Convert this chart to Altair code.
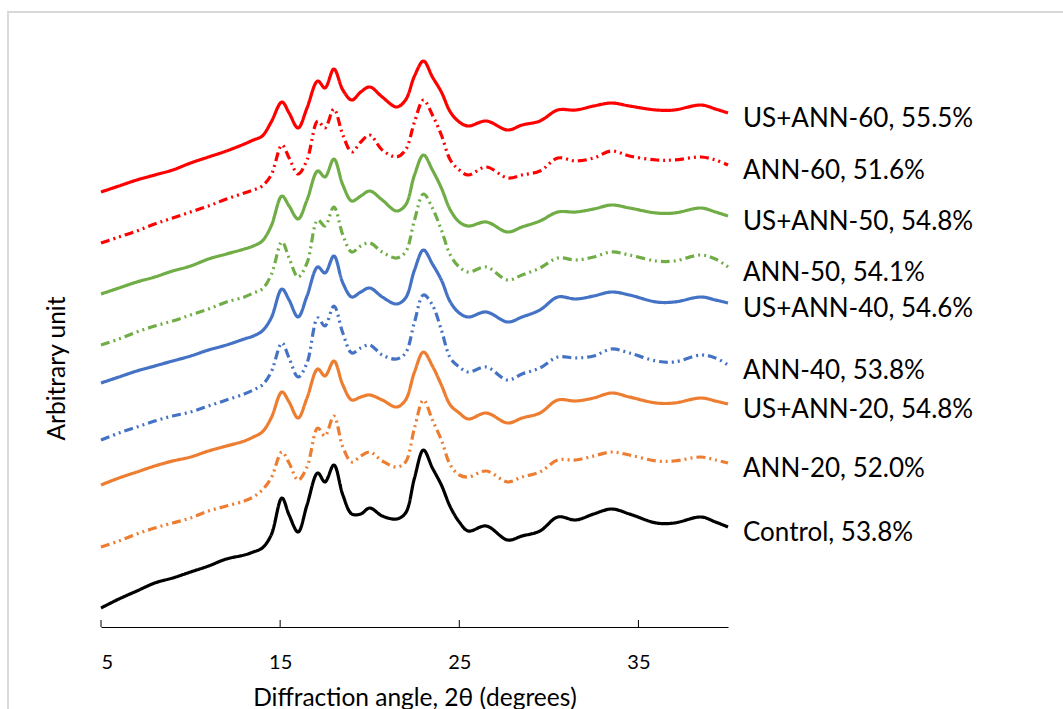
import altair as alt
import pandas as pd

# Diffraction angle grid (2θ, degrees)
angles = [5, 6, 7, 8, 9, 10, 11, 12, 13, 13.5, 14, 14.5, 15.1, 15.5, 16, 16.5, 17.1, 17.5,
          18, 18.5, 19, 19.5, 20, 20.7, 21.5, 22, 22.5, 23, 23.5, 24, 24.5, 25, 25.5, 26.5,
          27.7, 28.5, 29.5, 30.5, 31.5, 32.5, 33.5, 34.5, 36, 37, 38.5, 39.3, 40]

# Stacked intensities (arbitrary units)
control = [19, 28, 36, 44, 49, 55, 61, 68, 72, 75, 79, 92, 129, 112, 95, 122, 154, 145, 162, 132,
           113, 113, 119, 111, 108, 114, 149, 177, 159, 142, 120, 105, 96, 101, 87, 91, 96, 110,
           107, 113, 118, 113, 104, 104, 110, 105, 100]
ann20 = [80, 86, 93, 99, 104, 109, 116, 121, 126, 130, 137, 149, 175, 164, 147, 160, 199, 191, 211,
         180, 165, 171, 175, 166, 160, 165, 199, 227, 207, 187, 162, 152, 150, 156, 145, 150, 155,
         167, 167, 171, 175, 172, 166, 166, 170, 167, 164]
us_ann20 = [142, 149, 155, 161, 166, 170, 176, 181, 186, 190, 195, 209, 235, 225, 209, 229, 258, 251,
            266, 242, 227, 230, 232, 227, 220, 227, 255, 275, 261, 242, 222, 214, 208, 214, 204, 209,
            214, 227, 226, 229, 234, 230, 224, 224, 229, 226, 223]
ann40 = [187, 194, 200, 206, 211, 215, 221, 227, 233, 237, 242, 255, 284, 269, 250, 264, 309, 301, 321,
         294, 274, 279, 282, 272, 268, 274, 305, 332, 322, 297, 269, 260, 255, 260, 247, 253, 259, 270,
         269, 271, 278, 274, 266, 265, 272, 269, 262]
us_ann40 = [244, 250, 256, 261, 266, 271, 277, 282, 288, 291, 296, 309, 338, 327, 310, 331, 360, 354,
            371, 344, 330, 335, 339, 330, 323, 329, 357, 377, 363, 347, 325, 314, 310, 315, 305, 310,
            317, 330, 328, 331, 335, 332, 325, 325, 330, 327, 324]
ann50 = [282, 288, 295, 301, 306, 312, 318, 325, 330, 334, 338, 352, 385, 369, 350, 364, 407, 401, 420,
         392, 375, 381, 384, 375, 369, 375, 407, 433, 419, 397, 372, 360, 355, 360, 347, 352, 359, 369,
         367, 370, 375, 372, 366, 366, 372, 368, 360]
us_ann50 = [333, 339, 345, 350, 356, 361, 368, 373, 378, 381, 386, 401, 431, 421, 408, 427, 456, 450,
            468, 442, 426, 431, 436, 427, 416, 422, 452, 472, 457, 439, 417, 405, 401, 405, 395, 400,
            406, 415, 415, 418, 422, 419, 414, 414, 419, 415, 411]
ann60 = [384, 390, 396, 403, 409, 415, 421, 428, 434, 437, 441, 452, 482, 469, 453, 467, 506, 499, 518,
         492, 475, 485, 492, 477, 470, 477, 505, 527, 512, 492, 467, 457, 452, 460, 449, 452, 456, 469,
         466, 469, 476, 471, 467, 467, 470, 467, 462]
us_ann60 = [435, 441, 447, 452, 457, 464, 470, 476, 483, 487, 491, 505, 525, 514, 499, 519, 546, 539,
            558, 537, 527, 535, 540, 530, 520, 527, 551, 566, 550, 535, 515, 505, 501, 506, 497, 502,
            506, 517, 517, 521, 524, 521, 517, 517, 522, 518, 514]

names = ["Control, 53.8%", "ANN-20, 52.0%", "US+ANN-20, 54.8%", "ANN-40, 53.8%", "US+ANN-40, 54.6%",
         "ANN-50, 54.1%", "US+ANN-50, 54.8%", "ANN-60, 51.6%", "US+ANN-60, 55.5%"]
styles = ["solid", "dashed", "solid", "dashed", "solid", "dashed", "solid", "dashed", "solid"]
colors = ["#000000", "#ED7D31", "#ED7D31", "#4472C4", "#4472C4", "#70AD47", "#70AD47", "#FF0000", "#FF0000"]
curves = [control, ann20, us_ann20, ann40, us_ann40, ann50, us_ann50, ann60, us_ann60]
tick_values = [5, 15, 25, 35]

rows = []
for name, style, vals in zip(names, styles, curves):
    for a, v in zip(angles, vals):
        rows.append({"series": name, "style": style, "angle": a, "intensity": v})
df = pd.DataFrame(rows)

labels_df = pd.DataFrame({"series": names, "angle": [angles[-1]] * len(names),
                          "intensity": [c[-1] for c in curves]})
ticks_df = pd.DataFrame({"angle": tick_values})

FONT = "Lato"
xscale = alt.Scale(domain=[5, 40], nice=False, zero=False)
yscale = alt.Scale(domain=[0, 600], nice=False, zero=False)

lines = alt.Chart(df).mark_line(strokeWidth=3.2, interpolate="catmull-rom").encode(
    x=alt.X("angle:Q", scale=xscale,
            axis=alt.Axis(values=tick_values, ticks=False, tickSize=0, grid=False,
                          domainColor="#000000", domainWidth=1,
                          labelFont=FONT, labelFontSize=20, labelColor="#000000", labelPadding=25,
                          title="Diffraction angle, 2θ (degrees)", titleFont=FONT, titleFontSize=24.5,
                          titleFontWeight="normal", titleColor="#000000",
                          titleBaseline="alphabetic", titleY=78)),
    y=alt.Y("intensity:Q", scale=yscale,
            axis=alt.Axis(labels=False, ticks=False, domain=False, grid=False,
                          title="Arbitrary unit", titleFont=FONT, titleFontSize=24.5,
                          titleFontWeight="normal", titleColor="#000000",
                          titleAngle=270, titleX=-44, titleY=341, titleBaseline="middle",
                          titleAlign="center")),
    color=alt.Color("series:N", scale=alt.Scale(domain=names, range=colors), legend=None),
    strokeDash=alt.StrokeDash("style:N",
                              scale=alt.Scale(domain=["solid", "dashed"],
                                              range=[[1, 0], [9, 4, 2, 4, 2, 4]]),
                              legend=None),
    detail="series:N",
)

ticks = alt.Chart(ticks_df).mark_rule(color="#000000", strokeWidth=1).encode(
    x=alt.X("angle:Q", scale=xscale),
    y=alt.datum(0),
    y2=alt.datum(7),
)

labels = alt.Chart(labels_df).mark_text(align="left", baseline="middle", dx=15, dy=6,
                                         font=FONT, fontSize=26, color="#000000").encode(
    x=alt.X("angle:Q", scale=xscale),
    y=alt.Y("intensity:Q", scale=yscale),
    text="series:N",
)

frame = alt.Chart(ticks_df).mark_rect(filled=False, stroke="#D9D9D9", strokeWidth=2).encode(
    x=alt.value(-93), x2=alt.value(975), y=alt.value(-15), y2=alt.value(700),
)

chart = alt.layer(frame, lines, ticks, labels).properties(
    width=627, height=600,
    autosize=alt.AutoSizeParams(type="none"),
    padding={"left": 101, "top": 27, "right": 335, "bottom": 82},
).configure(background="white").configure_view(stroke=None)

chart.save("out.html", embed_options={"renderer": "svg", "actions": False})
